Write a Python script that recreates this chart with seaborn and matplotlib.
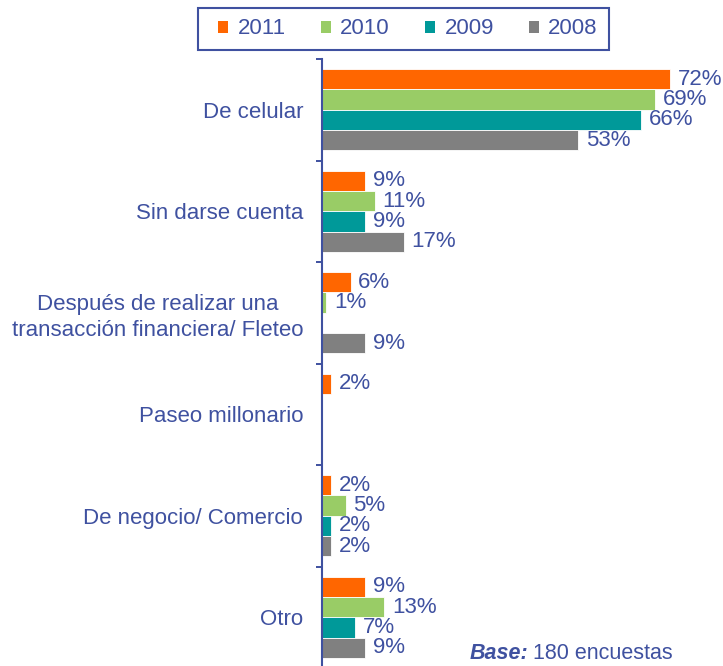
import numpy as np
import pandas as pd
import matplotlib
matplotlib.use("Agg")
import matplotlib.pyplot as plt
from matplotlib.patches import Patch, Rectangle
import seaborn as sns

# data
categories = [
    "De celular",
    "Sin darse cuenta",
    "Después de realizar una\ntransacción financiera/ Fleteo",
    "Paseo millonario",
    "De negocio/ Comercio",
    "Otro",
]
years = ["2011", "2010", "2009", "2008"]
v2011 = [72, 9, 6, 2, 2, 9]
v2010 = [69, 11, 1, np.nan, 5, 13]
v2009 = [66, 9, np.nan, np.nan, 2, 7]
v2008 = [53, 17, 9, np.nan, 2, 9]

colors = ["#FF6600", "#99CC66", "#009999", "#808080"]
BLUE = "#3F51A0"

rows = []
for year, vals in zip(years, [v2011, v2010, v2009, v2008]):
    for cat, v in zip(categories, vals):
        rows.append({"cat": cat, "year": year, "value": v})
df = pd.DataFrame(rows).dropna()

sns.set_theme(style="white")
plt.rcParams["font.family"] = ["Liberation Sans", "DejaVu Sans"]
FS = 16

fig = plt.figure(figsize=(7.23, 6.66), dpi=100)
ax = fig.add_axes([321.5 / 723, -2 / 666, 1 - 321.5 / 723, 609 / 666])

sns.barplot(data=df, y="cat", x="value", hue="year", order=categories,
            hue_order=years, palette=colors, orient="h", width=0.8,
            edgecolor="white", linewidth=0.6, saturation=1, ax=ax, legend=False)

for cont in ax.containers:
    ax.bar_label(cont, fmt="{:.0f}%", padding=5.5, fontsize=FS, color=BLUE)

ax.set_xlim(0, 401.5 / 4.84)
ax.set_ylim(len(categories) - 0.5, -0.5)
ax.set_xlabel("")
ax.set_ylabel("")
ax.set_xticks([])

ax.set_yticks(range(len(categories)))
ax.set_yticklabels(categories, fontsize=FS, color=BLUE, multialignment="center",
                   linespacing=1.3)
ax.set_yticks(np.arange(-0.5, len(categories) + 0.5, 1), minor=True)
ax.tick_params(axis="y", which="major", length=0, pad=13.3)
ax.tick_params(axis="y", which="minor", left=True, length=4.5, width=1.4, color=BLUE)

for s in ["top", "right", "bottom"]:
    ax.spines[s].set_visible(False)
ax.spines["left"].set_color(BLUE)
ax.spines["left"].set_linewidth(1.5)

# legend entries without frame, box drawn separately (padding is uneven in the original)
handles = [Patch(facecolor=c, edgecolor="none", label=y) for c, y in zip(colors, years)]
leg = fig.legend(handles=handles, loc="center", bbox_to_anchor=(408 / 723, 1 - 29 / 666),
                 ncol=4, fontsize=FS, frameon=False,
                 handlelength=0.46, handleheight=0.46, handletextpad=0.42,
                 columnspacing=1.57, borderpad=0.0)
for t in leg.get_texts():
    t.set_color(BLUE)
fig.patches.append(Rectangle((198 / 723, 1 - 50 / 666), 411 / 723, 42 / 666,
                             transform=fig.transFigure, fill=False,
                             edgecolor=BLUE, linewidth=1.5))

fig.text(470 / 723, 1 - 659 / 666, "Base:", fontsize=FS - 0.5, color=BLUE,
         fontweight="bold", fontstyle="italic", va="baseline", ha="left")
fig.text(533 / 723, 1 - 659 / 666, "180 encuestas", fontsize=FS - 0.5, color=BLUE,
         va="baseline", ha="left")

fig.savefig("out.png", dpi=100)
